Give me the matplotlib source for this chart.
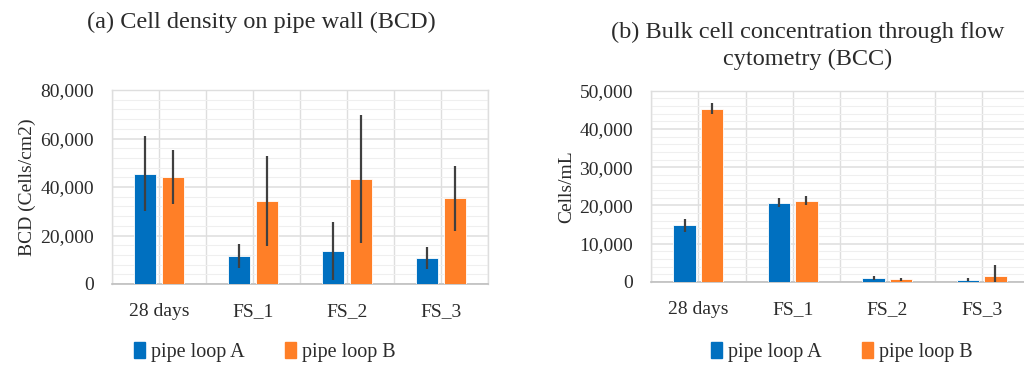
import matplotlib
matplotlib.use('Agg')
import matplotlib.pyplot as plt
import numpy as np
from matplotlib.ticker import MultipleLocator, FuncFormatter
from matplotlib.patches import Patch

# 데이터
categories = ['28 days', 'FS_1', 'FS_2', 'FS_3']
series_names = ['pipe loop A', 'pipe loop B']

bcd_a = [45400, 11700, 13600, 10600]
bcd_a_err = [15500, 4900, 11800, 4500]
bcd_b = [44100, 34200, 43300, 35300]
bcd_b_err = [11000, 18700, 26200, 13400]

bcc_a = [14800, 20700, 960, 600]
bcc_a_err = [1700, 1200, 500, 350]
bcc_b = [45300, 21300, 700, 1650]
bcc_b_err = [1400, 1200, 350, 2700]

plt.rcParams['font.family'] = ['Liberation Serif', 'DejaVu Serif']
text_color = '#2b2b2b'
plt.rcParams['text.color'] = text_color

blue = '#0070c0'
orange = '#ff7f27'
grid_major = '#dedede'
grid_minor = '#efefef'

fig = plt.figure(figsize=(10.24, 3.67), dpi=100)
ax1 = fig.add_axes([112 / 1024, 83 / 367, 376 / 1024, 194 / 367])
ax2 = fig.add_axes([651 / 1024, 85 / 367, 378 / 1024, 191.3 / 367])

fmt = FuncFormatter(lambda v, p: f'{int(v):,}')


def draw_panel(ax, a, a_err, b, b_err, ymax, major, minor, ylabel):
    x = np.arange(len(categories))
    w = 0.235
    off = 0.145
    ax.bar(x - off, a, w, color=blue, edgecolor='white', linewidth=0.6, zorder=3)
    ax.bar(x + off, b, w, color=orange, edgecolor='white', linewidth=0.6, zorder=3)
    ax.errorbar(x - off, a, yerr=a_err, fmt='none', ecolor='#404040',
                elinewidth=1.6, capsize=0, zorder=4)
    ax.errorbar(x + off, b, yerr=b_err, fmt='none', ecolor='#404040',
                elinewidth=1.6, capsize=0, zorder=4)

    ax.set_xlim(-0.5, len(categories) - 0.5)
    ax.set_ylim(0, ymax)
    ax.yaxis.set_major_locator(MultipleLocator(major))
    ax.yaxis.set_minor_locator(MultipleLocator(minor))
    ax.yaxis.set_major_formatter(fmt)
    ax.set_xticks(x)
    ax.set_xticklabels(categories)

    # 격자선 (엑셀 스타일)
    ax.yaxis.grid(True, which='major', color=grid_major, linewidth=1.1, zorder=0)
    ax.yaxis.grid(True, which='minor', color=grid_minor, linewidth=0.8, zorder=0)
    for xv in np.arange(-0.5, len(categories), 0.5):
        ax.axvline(xv, color=grid_major, linewidth=1.0, zorder=0)
    ax.set_axisbelow(True)

    for s in ['top', 'right', 'left']:
        ax.spines[s].set_color(grid_major)
        ax.spines[s].set_linewidth(1.0)
    ax.spines['bottom'].set_color('#bfbfbf')
    ax.spines['bottom'].set_linewidth(1.2)
    ax.tick_params(axis='both', which='both', length=0, labelsize=14,
                   colors=text_color)
    ax.tick_params(axis='x', pad=14)
    ax.tick_params(axis='y', pad=13)
    ax.set_ylabel(ylabel, fontsize=14, color=text_color, labelpad=3)


draw_panel(ax1, bcd_a, bcd_a_err, bcd_b, bcd_b_err, 80000, 20000, 4000,
           'BCD (Cells/cm2)')
draw_panel(ax2, bcc_a, bcc_a_err, bcc_b, bcc_b_err, 50000, 10000, 2000,
           'Cells/mL')

fig.text(261 / 1024, 1 - 22 / 367, '(a) Cell density on pipe wall (BCD)',
         ha='center', va='center', fontsize=17.5)
fig.text(808 / 1024, 1 - 46 / 367,
         '(b) Bulk cell concentration through flow\ncytometry (BCC)',
         ha='center', va='center', fontsize=17.5, linespacing=1.35)

handles = [Patch(color=blue), Patch(color=orange)]
for cx in [265 / 1024, 842 / 1024]:
    fig.legend(handles, series_names, loc='center',
               bbox_to_anchor=(cx, 1 - 352 / 367), ncol=2, frameon=False,
               fontsize=14.5, handlelength=0.55, handleheight=0.8,
               handletextpad=0.3, columnspacing=2.0)

fig.savefig('out.png', dpi=100)
plt.close(fig)
